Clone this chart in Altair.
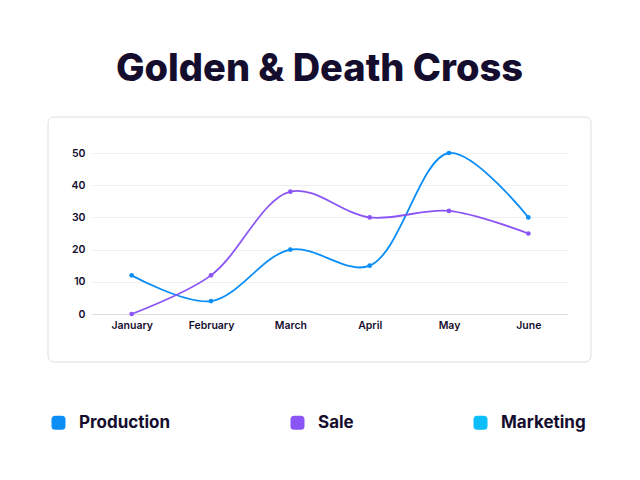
import altair as alt
import pandas as pd

months = ["January", "February", "March", "April", "May", "June"]
production = [12, 4, 20, 15, 50, 30]
sale = [0, 12, 38, 30, 32, 25]
series_names = ["Production", "Sale", "Marketing"]
series_colors = ["#0a8ef6", "#8b55f6", "#0bbdf8"]

rows = []
for m, p, s in zip(months, production, sale):
    rows.append({"month": m, "series": "Production", "value": p})
    rows.append({"month": m, "series": "Sale", "value": s})
df = pd.DataFrame(rows)

FONT = "Inter"
TXT = "#150d2e"

color_scale = alt.Scale(domain=series_names, range=series_colors)
x_enc = alt.X("month:N", sort=months, title=None,
              scale=alt.Scale(type="point", padding=0.5),
              axis=alt.Axis(labelAngle=0, ticks=False, grid=False, domain=True,
                            domainColor="#dcdcdc", labelPadding=6,
                            labelFont=FONT, labelFontSize=10.5, labelFontWeight=600,
                            labelColor=TXT))
y_enc = alt.Y("value:Q", title=None, scale=alt.Scale(domain=[0, 50]),
              axis=alt.Axis(values=[0, 10, 20, 30, 40, 50], ticks=False, domain=False,
                            grid=True, gridColor="#efefef", gridWidth=1,
                            labelPadding=7, labelFont=FONT, labelFontSize=10.5,
                            labelFontWeight=600, labelColor=TXT))

rounded_sq = ("M -1 -0.45 Q -1 -1 -0.45 -1 L 0.45 -1 Q 1 -1 1 -0.45 L 1 0.45 "
              "Q 1 1 0.45 1 L -0.45 1 Q -1 1 -1 0.45 Z")
legend = alt.Legend(title=None, orient="none", legendX=-42, legendY=261,
                    direction="horizontal", columns=3,
                    columnPadding=118, symbolType=rounded_sq,
                    symbolSize=196, symbolStrokeWidth=0,
                    symbolOpacity=1, labelOffset=12,
                    labelFont=FONT, labelFontSize=17,
                    labelFontWeight=700, labelColor=TXT)
color_enc = alt.Color("series:N", scale=color_scale, legend=legend)

box = alt.Chart(alt.Data(values=[{}])).mark_rect(
    fillOpacity=0, stroke="#dedede", strokeWidth=1, cornerRadius=6
).encode(x=alt.value(-44), x2=alt.value(499), y=alt.value(-36), y2=alt.value(209))

lines = alt.Chart(df).mark_line(interpolate="catmull-rom", strokeWidth=1.8).encode(
    x=x_enc, y=y_enc, color=color_enc,
)

points = alt.Chart(df).mark_circle(size=22, opacity=1).encode(
    x=x_enc, y=y_enc, color=color_enc,
)

chart = alt.layer(box, lines, points).properties(
    width=476, height=161,
    title=alt.Title("Golden & Death Cross", font=FONT, fontSize=38, fontWeight=800,
                    color=TXT, anchor="middle", dx=-10.5, offset=28),
    autosize=alt.AutoSizeParams(type="none"),
    padding={"left": 84, "top": 145, "right": 56, "bottom": 150},
).configure(background="white").configure_view(stroke=None)

chart.save("out.html", embed_options={"renderer": "svg", "actions": False})
